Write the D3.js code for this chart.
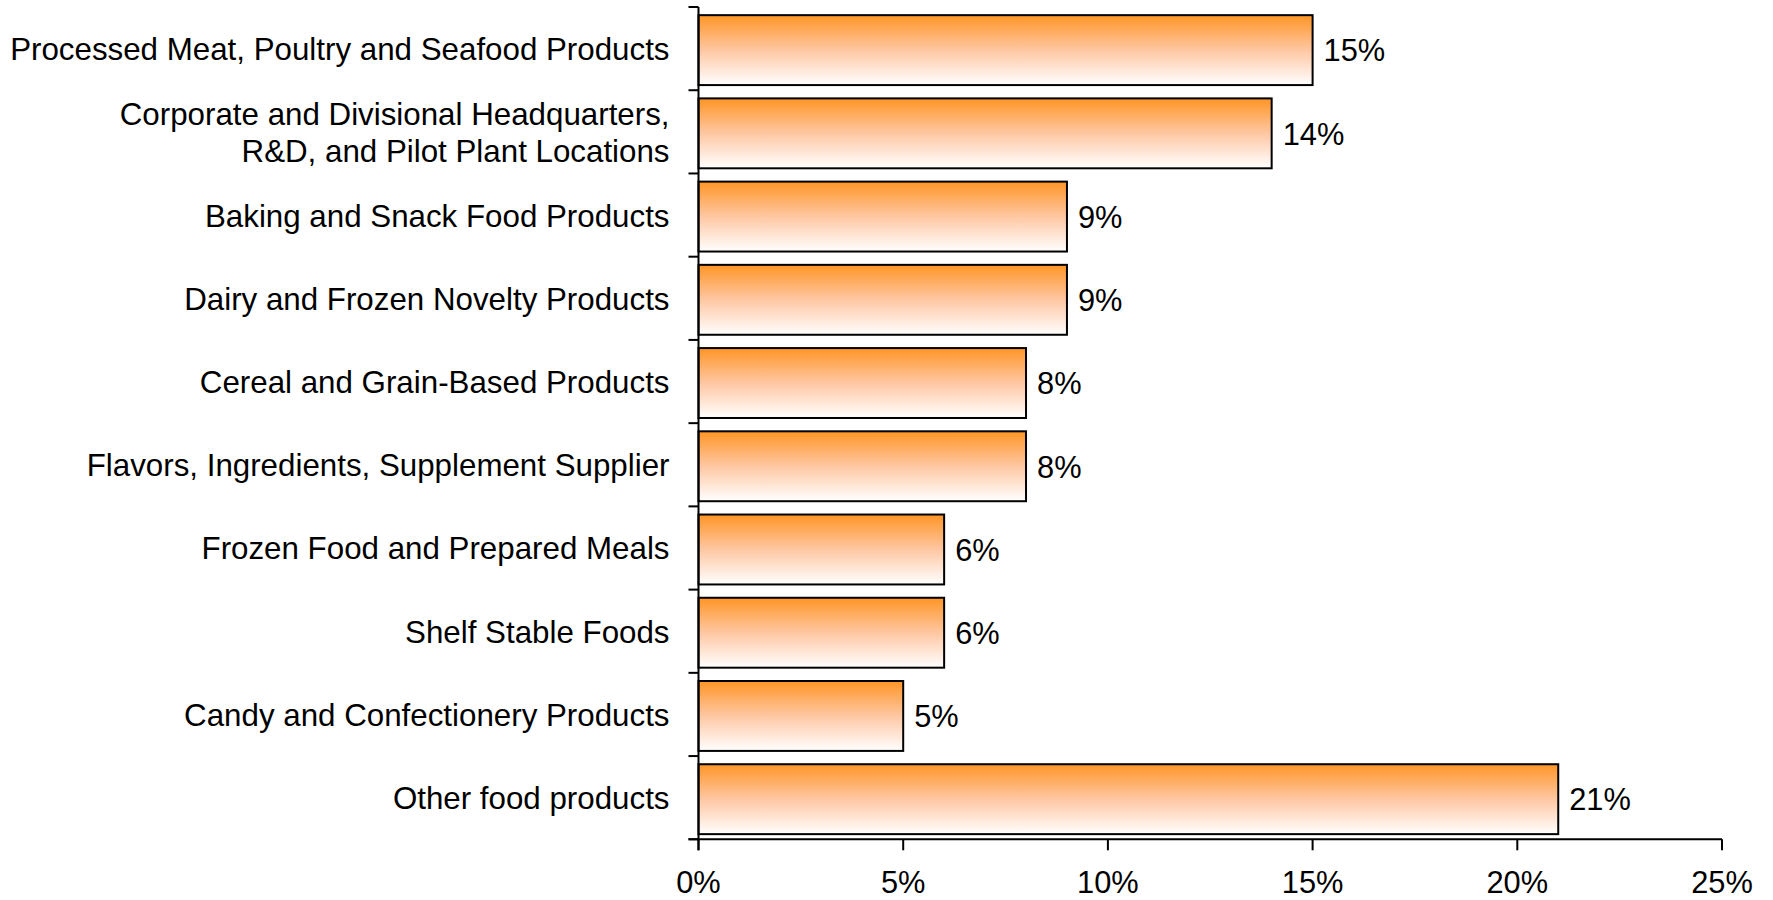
<!DOCTYPE html>
<html>
<head>
<meta charset="utf-8">
<script src="https://cdn.jsdelivr.net/npm/d3@7"></script>
<style>
  html, body { margin: 0; padding: 0; background: #fff; }
  svg text { font-family: "Liberation Sans", Arial, sans-serif; fill: #000; }
</style>
</head>
<body>
<svg id="chart" width="1773" height="900"></svg>
<script>
// Share of food-industry locations by segment
const categories = [
  "Processed Meat, Poultry and Seafood Products",
  "Corporate and Divisional Headquarters,\nR&D, and Pilot Plant Locations",
  "Baking and Snack Food Products",
  "Dairy and Frozen Novelty Products",
  "Cereal and Grain-Based Products",
  "Flavors, Ingredients, Supplement Supplier",
  "Frozen Food and Prepared Meals",
  "Shelf Stable Foods",
  "Candy and Confectionery Products",
  "Other food products"
];
const shares = [15, 14, 9, 9, 8, 8, 6, 6, 5, 21];
const xTicks = [0, 5, 10, 15, 20, 25];

const svg = d3.select("#chart");
const plotLeft = 698.5, plotRight = 1722, plotTop = 7, plotBottom = 839.3;
const labelSize = 31.3, valueSize = 30.8;

const x = d3.scaleLinear().domain([0, 25]).range([plotLeft, plotRight]);
const y = d3.scaleBand().domain(categories).range([plotTop, plotBottom]).paddingInner(0).paddingOuter(0);
const step = y.step();
const barH = step * 0.84;

// vertical orange-to-white fill used by every bar
const defs = svg.append("defs");
const grad = defs.append("linearGradient")
  .attr("id", "barFill").attr("x1", 0).attr("y1", 0).attr("x2", 0).attr("y2", 1);
grad.append("stop").attr("offset", "0%").attr("stop-color", "#FF9526");
grad.append("stop").attr("offset", "50%").attr("stop-color", "#FEC7A2");
grad.append("stop").attr("offset", "100%").attr("stop-color", "#FFFFFF");

// bars
svg.append("g").selectAll("rect")
  .data(categories)
  .join("rect")
  .attr("x", x(0))
  .attr("y", (d) => y(d) + (step - barH) / 2 + 1.5)
  .attr("width", (d, i) => x(shares[i]) - x(0))
  .attr("height", barH)
  .attr("fill", "url(#barFill)")
  .attr("stroke", "#000")
  .attr("stroke-width", 2);

// value labels
svg.append("g").selectAll("text")
  .data(categories)
  .join("text")
  .attr("x", (d, i) => x(shares[i]) + 11)
  .attr("y", (d) => y(d) + step / 2 + 2)
  .attr("dy", "0.35em")
  .attr("font-size", valueSize)
  .text((d, i) => shares[i] + "%");

// category axis: line plus ticks on category boundaries
const yAxis = svg.append("g");
yAxis.append("line")
  .attr("x1", plotLeft).attr("x2", plotLeft)
  .attr("y1", plotTop).attr("y2", plotBottom + 11)
  .attr("stroke", "#000").attr("stroke-width", 2);
yAxis.selectAll("line.tick")
  .data(d3.range(categories.length + 1))
  .join("line")
  .attr("class", "tick")
  .attr("x1", plotLeft - 10).attr("x2", plotLeft)
  .attr("y1", (i) => plotTop + i * step).attr("y2", (i) => plotTop + i * step)
  .attr("stroke", "#000").attr("stroke-width", 2);

// category labels (right aligned, multi-line where needed)
const labels = yAxis.selectAll("text")
  .data(categories)
  .join("text")
  .attr("text-anchor", "end")
  .attr("font-size", labelSize)
  .attr("x", plotLeft - 29)
  .attr("y", (d) => y(d) + step / 2 + 0.5);
labels.each(function (d) {
  const lines = d.split("\n");
  const lh = 37;
  const t = d3.select(this);
  lines.forEach((ln, k) => {
    t.append("tspan")
      .attr("x", plotLeft - 29)
      .attr("dy", k === 0 ? `${0.35 * labelSize - (lines.length - 1) * lh / 2}px` : `${lh}px`)
      .text(ln);
  });
});

// value axis
const xAxis = svg.append("g");
xAxis.append("line")
  .attr("x1", plotLeft - 10).attr("x2", plotRight)
  .attr("y1", plotBottom).attr("y2", plotBottom)
  .attr("stroke", "#000").attr("stroke-width", 2);
xAxis.selectAll("line.tick")
  .data(xTicks)
  .join("line")
  .attr("class", "tick")
  .attr("x1", (d) => x(d)).attr("x2", (d) => x(d))
  .attr("y1", plotBottom).attr("y2", plotBottom + 11)
  .attr("stroke", "#000").attr("stroke-width", 2);
xAxis.selectAll("text")
  .data(xTicks)
  .join("text")
  .attr("text-anchor", "middle")
  .attr("font-size", valueSize)
  .attr("x", (d) => x(d))
  .attr("y", 892.5)
  .text((d) => d + "%");
</script>
</body>
</html>
